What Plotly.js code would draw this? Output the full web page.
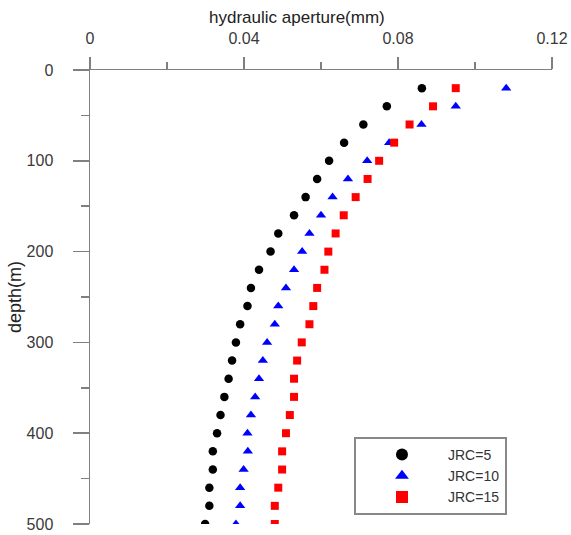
<!DOCTYPE html>
<html>
<head>
<meta charset="utf-8">
<script src="https://cdn.plot.ly/plotly-3.0.1.min.js"></script>
<style>html,body{margin:0;padding:0;background:#fff;}#chart{width:571px;height:535px;}</style>
</head>
<body>
<div id="chart"></div>
<script>
var depth = [20,40,60,80,100,120,140,160,180,200,220,240,260,280,300,320,340,360,380,400,420,440,460,480,500];
var jrc5 = [0.0862,0.0771,0.0710,0.0660,0.0621,0.0590,0.0560,0.0530,0.0489,0.0469,0.0439,0.0418,0.0409,0.0390,0.0379,0.0369,0.0360,0.0349,0.0339,0.0330,0.0319,0.0319,0.0310,0.0310,0.0299];
var jrc10 = [0.1081,0.0950,0.0861,0.0777,0.0720,0.0670,0.0630,0.0600,0.0570,0.0551,0.0530,0.0509,0.0489,0.0480,0.0460,0.0449,0.0439,0.0429,0.0418,0.0409,0.0410,0.0399,0.0390,0.0390,0.0379];
var jrc15 = [0.0950,0.0891,0.0830,0.0790,0.0751,0.0721,0.0690,0.0659,0.0638,0.0619,0.0609,0.0590,0.0580,0.0570,0.0550,0.0538,0.0530,0.0530,0.0519,0.0509,0.0499,0.0499,0.0489,0.0480,0.0480];
var seriesNames = ["JRC=5","JRC=10","JRC=15"];
var xTicks = [0,0.04,0.08,0.12];
var xTickText = ["0","0.04","0.08","0.12"];
var yTicks = [0,100,200,300,400,500];

var font = "Liberation Sans, Arial, sans-serif";
var traces = [
  {x: jrc5, y: depth, name: seriesNames[0], mode: "markers", type: "scatter",
   marker: {symbol: "circle", size: 8.5, color: "#000000"}},
  {x: jrc10, y: depth, name: seriesNames[1], mode: "markers", type: "scatter",
   marker: {symbol: "triangle-up", size: 9, color: "#0000ff"}},
  {x: jrc15, y: depth, name: seriesNames[2], mode: "markers", type: "scatter",
   marker: {symbol: "square", size: 8, color: "#ff0000"}}
];
var axisColor = "#808080";
var tickFont = {family: font, size: 16, color: "#3a3a3a"};
var layout = {
  width: 571, height: 535,
  margin: {l: 90, r: 19, t: 70, b: 11, autoexpand: false},
  paper_bgcolor: "#ffffff", plot_bgcolor: "#ffffff",
  font: {family: font, size: 15, color: "#333333"},
  title: {text: "hydraulic aperture(mm)", font: {family: font, size: 17, color: "#222222"},
    xref: "container", yref: "container", x: 0.52, xanchor: "center", y: 0.968, yanchor: "middle"},
  showlegend: true,
  legend: {x: 0.5714, y: 0.1916, xanchor: "left", yanchor: "top",
    bordercolor: "#888888", borderwidth: 2, bgcolor: "#ffffff",
    font: {family: font, size: 14, color: "#333333"}, itemwidth: 82, itemsizing: "constant",
    tracegroupgap: 0},
  xaxis: {side: "top", range: [0, 0.12], tickvals: xTicks, ticktext: xTickText,
    showgrid: false, zeroline: false, showline: true, linecolor: axisColor, linewidth: 1.5,
    ticks: "outside", ticklen: 12, tickcolor: axisColor, tickwidth: 1.5,
    minor: {dtick: 0.02, ticks: "outside", ticklen: 7, tickcolor: axisColor, tickwidth: 1.5, showgrid: false},
    tickfont: tickFont, ticklabelstandoff: 6,
    automargin: false, fixedrange: true},
  yaxis: {range: [500, 0], tickvals: yTicks,
    showgrid: false, zeroline: false, showline: true, linecolor: axisColor, linewidth: 1.5,
    ticks: "outside", ticklen: 16, tickcolor: axisColor, tickwidth: 1.5,
    minor: {dtick: 50, ticks: "outside", ticklen: 8, tickcolor: axisColor, tickwidth: 1.5, showgrid: false},
    tickfont: tickFont, ticklabelstandoff: 16,
    title: {text: "depth(m)", font: {family: font, size: 18, color: "#222222"}},
    automargin: false, fixedrange: true}
};
Plotly.newPlot("chart", traces, layout, {displayModeBar: false, staticPlot: true});
</script>
</body>
</html>
